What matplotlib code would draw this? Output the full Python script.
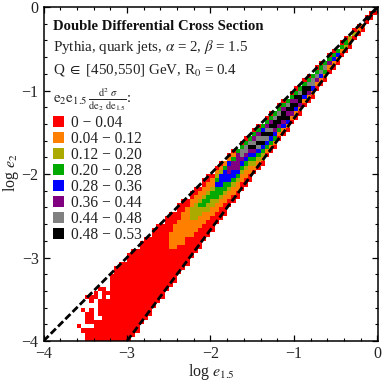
import numpy as np
import matplotlib
matplotlib.use("Agg")
import matplotlib.pyplot as plt
from matplotlib.colors import ListedColormap, BoundaryNorm
from matplotlib.patches import Patch

plt.rcParams['font.family'] = ['Liberation Serif', 'DejaVu Serif']
plt.rcParams['mathtext.fontset'] = 'stix'

title_lines = ["Double Differential Cross Section",
               r"Pythia, quark jets, $\alpha$ = 2, $\beta$ = 1.5",
               r"Q $\in$ [450,550] GeV, R$_0$ = 0.4"]
bin_labels = ["0 − 0.04", "0.04 − 0.12", "0.12 − 0.20", "0.20 − 0.28",
              "0.28 − 0.36", "0.36 − 0.44", "0.44 − 0.48", "0.48 − 0.53"]
bin_colors = ["#ff0000", "#ff8000", "#aaaa00", "#00aa00",
              "#0000ff", "#800080", "#808080", "#000000"]

# Binned cross section per column of the 80x80 grid: first filled row, then the
# bin index of each cell going upward ('.' = empty)
first_col = 8
col_start = [3, 2, 0, 0, 0, 0, 0, 0, 0, 0, 0, 0, 0,
             1, 2, 4, 5, 6, 8, 9, 10, 12,
             13, 14, 16, 17, 18, 20, 21, 22, 24, 25, 26, 28, 29, 30, 32, 33, 34, 36, 37, 38,
             40, 41, 42, 44, 45, 46, 48, 49, 50, 52, 53, 54, 56, 57, 58, 60, 61, 62,
             64, 65, 66, 68, 69, 70, 72, 73, 74, 76, 77, 78]
col_bins = [
    "0",
    "0....0",
    "000.000...0",
    "000.0000.00",
    "00000.....00",
    "00000.0000..0",
    "0000000000000",
    "0000000000.0",
    "0000000000000000",
    "000000000000000000",
    "0000000000000000000",
    "0000000000000000000",
    "000000000000000000000",
    "000000000000000000000",
    "00000000000000000000",
    "00000000000000000000",
    "00000000000000000000",
    "0000000000000000000",
    "0000000000000000000",
    "0000000000000000000",
    "000000000000000000",
    "000000000000000000",
    "000000000111100000",
    "00000000111111000",
    "00000001111110000",
    "00000011111111000",
    "0000000111111100",
    "0000011112221100",
    "0000011122221100",
    "000001112232110",
    "000011123321100",
    "000011223321100",
    "00001122332110",
    "00011233343210",
    "00011233444210",
    "0001123344431",
    "0011234455410",
    "0011234455310",
    "001123455553",
    "001123456630",
    "001123456630",
    "00112345763",
    "01234576530",
    "01234676530",
    "0123476743",
    "0134676530",
    "0134767530",
    "013457763",
    "013577630",
    "014577530",
    "01475763",
    "01577530",
    "01475730",
    "0157763",
    "0147730",
    "0157630",
    "014663",
    "015630",
    "014630",
    "01363",
    "01530",
    "01430",
    "0143",
    "0130",
    "0230",
    "012",
    "020",
    "010",
    "01",
    "00",
    "00",
    "0",
]
bin_edges = [-0.5, 0.5, 1.5, 2.5, 3.5, 4.5, 5.5, 6.5, 7.5]

# Dashed kinematic boundaries
upper_x, upper_y = [-4, 0], [-4, 0]
lower_x, lower_y = [-3, 0], [-4, 0]

x_major = [-4, -3, -2, -1, 0]
y_major = [-4, -3, -2, -1, 0]
major_labels = ["−4", "−3", "−2", "−1", "0"]

W = 382
fig = plt.figure(figsize=(W / 100, W / 100), dpi=100)
ax = fig.add_axes([43.5 / W, (W - 341) / W, 334 / W, 334 / W])

grid = np.full((80, 80), np.nan)
for k, (start, cells) in enumerate(zip(col_start, col_bins)):
    for m, c in enumerate(cells):
        if c != '.' and start + m < 80:
            grid[start + m, first_col + k] = int(c)

edges = np.linspace(-4, 0, 81)
cmap = ListedColormap(bin_colors)
ax.pcolormesh(edges, edges, np.ma.masked_invalid(grid), cmap=cmap,
              norm=BoundaryNorm(bin_edges, cmap.N), antialiased=False, linewidth=0)

dash = dict(color='black', lw=2.0, dashes=(2.6, 1.1), dash_capstyle='butt', zorder=4)
ax.plot(upper_x, upper_y, **dash)
ax.plot(lower_x, lower_y, **dash)

ax.set_xlim(-4, 0)
ax.set_ylim(-4, 0)
ax.set_xticks(x_major, major_labels)
ax.set_yticks(y_major, major_labels)
ax.set_xticks(np.arange(-4, 0.01, 0.2), minor=True)
ax.set_yticks(np.arange(-4, 0.01, 0.2), minor=True)
ax.tick_params(which='major', direction='in', length=4.3, width=0.9, top=True, right=True,
               labelsize=11.5, labelcolor='#222222', pad=3.5)
ax.tick_params(which='minor', direction='in', length=2.2, width=0.8, top=True, right=True)
for s in ax.spines.values():
    s.set_linewidth(1.1)

fig.text(211 / W, 1 - 376 / W, r"log $e_{1.5}$", ha='center', va='baseline', fontsize=11.5, color='#222222')
fig.text(11 / W, 1 - 173 / W, r"log $e_2$", ha='center', va='center', rotation=90, fontsize=11.5, color='#222222')

tx = 53 / W
fig.text(tx, 1 - 30 / W, title_lines[0], fontsize=10.6, fontweight='bold', va='baseline', color='#111111')
fig.text(tx, 1 - 51 / W, title_lines[1], fontsize=10.8, va='baseline', color='#222222')
fig.text(tx, 1 - 73 / W, title_lines[2], fontsize=10.8, va='baseline', color='#222222')
fig.text(tx, 1 - 103 / W,
         r"$\mathrm{e}_2\mathrm{e}_{1.5}\,\frac{\mathrm{d}^2\ \sigma}{\mathrm{de}_2\ \mathrm{de}_{1.5}}$:",
         fontsize=10.8, va='baseline', color='#222222')

handles = [Patch(facecolor=c, edgecolor='none', label=l) for c, l in zip(bin_colors, bin_labels)]
fig.legend(handles=handles, loc='upper left', bbox_to_anchor=(51 / W, 1 - 113 / W),
           frameon=False, fontsize=11.2, handlelength=0.72, handleheight=0.72,
           handletextpad=0.45, labelspacing=0.0, borderpad=0.1, borderaxespad=0,
           labelcolor='#222222')

fig.savefig("out.png", dpi=100)
